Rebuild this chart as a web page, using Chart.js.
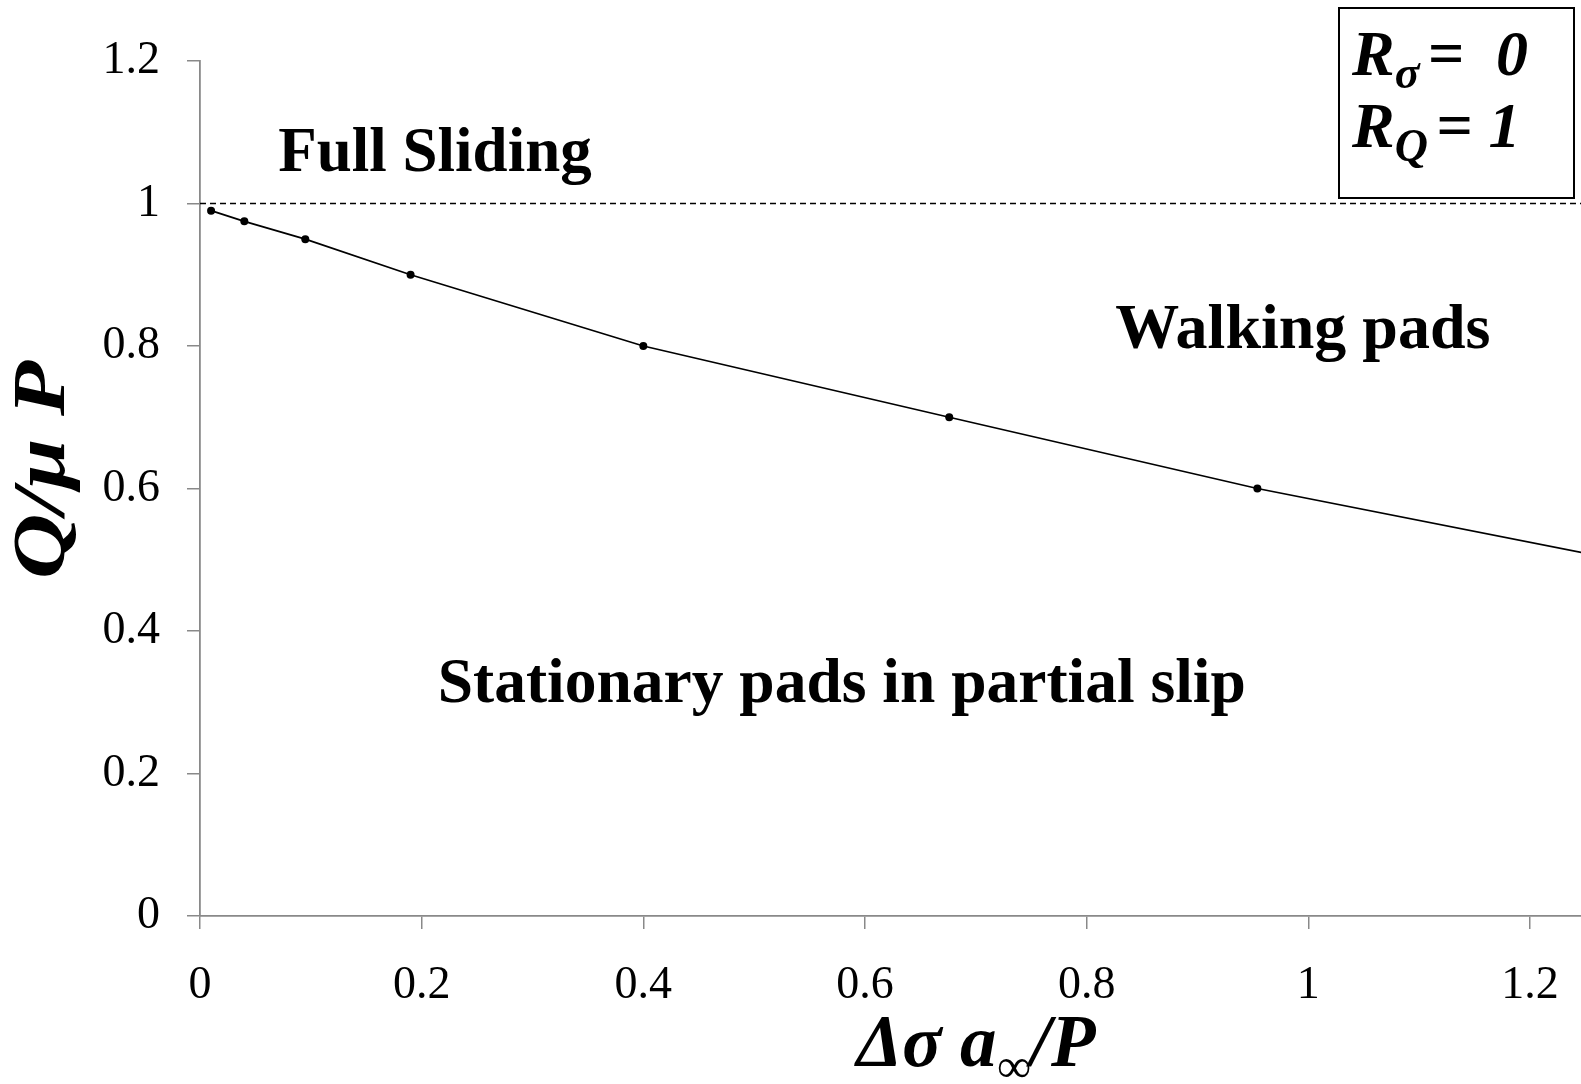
<!DOCTYPE html>
<html>
<head>
<meta charset="utf-8">
<script src="https://cdn.jsdelivr.net/npm/chart.js@4.4.0/dist/chart.umd.min.js"></script>
<style>
    html, body { margin: 0; padding: 0; background: #ffffff; }
</style>
</head>
<body>
<canvas id="mapChart" width="1581" height="1084"></canvas>
<script>
// Boundary between stationary pads and walking pads
var loadRatio = [0.01, 0.04, 0.095, 0.19, 0.4, 0.676, 0.954, 1.28];
var forceRatio = [0.99, 0.975, 0.95, 0.9, 0.8, 0.7, 0.6, 0.5];

// Full sliding limit Q/muP = 1
var slidingX = [0, 1.246];
var slidingY = [1, 1];

var xTicks = [0, 0.2, 0.4, 0.6, 0.8, 1, 1.2];
var yTicks = [0, 0.2, 0.4, 0.6, 0.8, 1, 1.2];

var regionNames = ["Full Sliding", "Walking pads", "Stationary pads in partial slip"];

var serif = "'Liberation Serif', 'Times New Roman', serif";
var axisGrey = '#898989';

function toPoints(xs, ys) {
    var pts = [];
    for (var i = 0; i < xs.length; i++) {
        pts.push({x: xs[i], y: ys[i]});
    }
    return pts;
}

function tickText(v) {
    return String(Math.round(v * 10) / 10);
}

// draws a run of text pieces, some of them as subscripts
function drawPieces(ctx, pieces, x, y) {
    var cx = x;
    for (var i = 0; i < pieces.length; i++) {
        var p = pieces[i];
        ctx.font = 'italic bold ' + p.size + 'px ' + serif;
        ctx.fillText(p.t, cx, y + (p.dy || 0));
        cx += ctx.measureText(p.t).width + (p.gap || 0);
    }
}

function piecesWidth(ctx, pieces) {
    var w = 0;
    for (var i = 0; i < pieces.length; i++) {
        ctx.font = 'italic bold ' + pieces[i].size + 'px ' + serif;
        w += ctx.measureText(pieces[i].t).width + (pieces[i].gap || 0);
    }
    return w;
}

var labelsPlugin = {
    id: 'labelsPlugin',
    afterDraw: function (chart) {
        var ctx = chart.ctx;
        var xs = chart.scales.x;
        var ys = chart.scales.y;
        ctx.save();
        ctx.fillStyle = '#000';
        ctx.textBaseline = 'alphabetic';

        // region names, anchored in data space
        var anchors = [[0.212, 1.045], [0.995, 0.797], [0.579, 0.30]];
        var sizes = [63, 64, 63.5];
        ctx.textAlign = 'center';
        for (var i = 0; i < regionNames.length; i++) {
            ctx.font = 'bold ' + sizes[i] + 'px ' + serif;
            ctx.fillText(regionNames[i], xs.getPixelForValue(anchors[i][0]), ys.getPixelForValue(anchors[i][1]));
        }

        // parameter box in the top right corner
        var right = chart.width;
        ctx.strokeStyle = '#000';
        ctx.lineWidth = 2;
        ctx.strokeRect(right - 242, 8, 235, 190);
        ctx.textAlign = 'left';
        drawPieces(ctx, [
            {t: 'R', size: 64},
            {t: 'σ', size: 46, dy: 13, gap: 8},
            {t: '=  0', size: 64}
        ], right - 229, 75);
        drawPieces(ctx, [
            {t: 'R', size: 64},
            {t: 'Q', size: 46, dy: 14, gap: 8},
            {t: '= 1', size: 64}
        ], right - 229, 147);

        // x axis title
        var xPieces = [
            {t: 'Δσ a', size: 73},
            {t: '∞', size: 48, dy: 16},
            {t: '/P', size: 73}
        ];
        var w = piecesWidth(ctx, xPieces);
        drawPieces(ctx, xPieces, 976 - w / 2, 1066);

        // y axis title, a little stretched along its length as in the original
        ctx.translate(64, 470);
        ctx.rotate(-Math.PI / 2);
        ctx.scale(1.22, 1);
        ctx.textAlign = 'center';
        ctx.font = 'italic bold 74px ' + serif;
        ctx.fillText('Q/μ P', 0, 0);
        ctx.restore();
    }
};

var ctx = document.getElementById('mapChart').getContext('2d');
var chart = new Chart(ctx, {
    type: 'scatter',
    data: {
        datasets: [{
            data: toPoints(loadRatio, forceRatio),
            showLine: true,
            borderColor: '#000',
            borderWidth: 1.7,
            pointRadius: 4,
            pointBackgroundColor: '#000',
            pointBorderWidth: 0,
            tension: 0
        }, {
            data: toPoints(slidingX, slidingY),
            showLine: true,
            borderColor: '#000',
            borderWidth: 1.4,
            borderDash: [6, 4],
            pointRadius: 0
        }]
    },
    options: {
        responsive: false,
        animation: false,
        devicePixelRatio: 1,
        layout: {autoPadding: false, padding: {top: 61, right: 0, bottom: 0, left: 0}},
        plugins: {legend: {display: false}, tooltip: {enabled: false}},
        scales: {
            x: {
                type: 'linear',
                min: 0,
                max: 1.246,
                afterBuildTicks: function (s) { s.ticks = xTicks.map(function (v) { return {value: v}; }); },
                afterFit: function (s) { s.height = 168; s.paddingLeft = 0; s.paddingRight = 0; },
                grid: {drawOnChartArea: false, drawTicks: true, tickLength: 13, color: axisGrey, lineWidth: 1.5},
                border: {display: true, color: axisGrey, width: 1.8},
                ticks: {
                    font: {family: serif, size: 46}, color: '#000', padding: 29,
                    maxRotation: 0, autoSkip: false, includeBounds: false, callback: tickText
                }
            },
            y: {
                type: 'linear',
                min: 0,
                max: 1.2,
                afterBuildTicks: function (s) { s.ticks = yTicks.map(function (v) { return {value: v}; }); },
                afterFit: function (s) { s.width = 200; },
                grid: {drawOnChartArea: false, drawTicks: true, tickLength: 13, color: axisGrey, lineWidth: 1.5},
                border: {display: true, color: axisGrey, width: 1.8},
                ticks: {
                    font: {family: serif, size: 46}, color: '#000', padding: 27,
                    autoSkip: false, includeBounds: false, callback: tickText
                }
            }
        }
    },
    plugins: [labelsPlugin]
});
</script>
</body>
</html>
